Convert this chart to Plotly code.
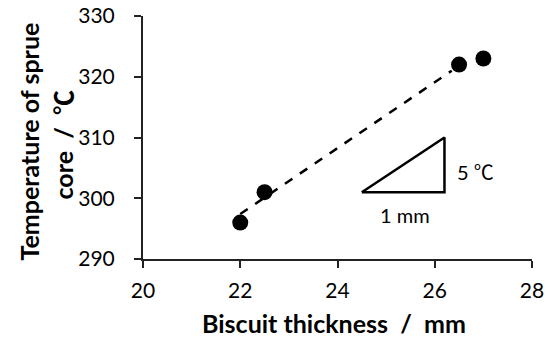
import plotly.graph_objects as go

thickness = [22.0, 22.5, 26.5, 27.0]
temperature = [296, 301, 322, 323]

trend_x = [22.0, 26.35]
trend_y = [297.4, 321.0]

tri_x = [24.5, 26.2, 26.2, 24.5]
tri_y = [301, 301, 310, 301]

x_ticks = [20, 22, 24, 26, 28]
y_ticks = [290, 300, 310, 320, 330]

FONT = "Lato, 'Noto Sans CJK SC', sans-serif"
TICK = 21
TITLE = 25

fig = go.Figure()
fig.add_trace(go.Scatter(x=trend_x, y=trend_y, mode="lines",
                         line=dict(color="black", width=2.5, dash="dash"),
                         showlegend=False, hoverinfo="skip"))
fig.add_trace(go.Scatter(x=tri_x, y=tri_y, mode="lines",
                         line=dict(color="black", width=2.5),
                         showlegend=False, hoverinfo="skip"))
fig.add_trace(go.Scatter(x=thickness, y=temperature, mode="markers",
                         marker=dict(color="black", size=16),
                         showlegend=False))

fig.add_annotation(x=26.41, y=304.3, xref="x", yref="y", text="5 ℃",
                   showarrow=False, xanchor="left", yanchor="middle",
                   font=dict(family=FONT, size=20, color="black"))
fig.add_annotation(x=25.38, y=297.3, xref="x", yref="y", text="1 mm",
                   showarrow=False, xanchor="center", yanchor="middle",
                   font=dict(family=FONT, size=20, color="black"))

# y-axis title, two lines
fig.add_annotation(x=0, y=0.5, xref="paper", yref="paper",
                   text="<b>Temperature of sprue</b>",
                   textangle=-90, showarrow=False,
                   xanchor="center", yanchor="middle", xshift=-115, yshift=-4,
                   font=dict(family=FONT, size=TITLE, color="black"))
fig.add_annotation(x=0, y=0.5, xref="paper", yref="paper",
                   text="<b>core&nbsp; /&nbsp; ℃</b>",
                   textangle=-90, showarrow=False,
                   xanchor="center", yanchor="middle", xshift=-81, yshift=-8,
                   font=dict(family=FONT, size=TITLE, color="black"))
# x-axis title
fig.add_annotation(x=0.5, y=0, xref="paper", yref="paper",
                   text="<b>Biscuit thickness&nbsp; /&nbsp; mm</b>",
                   showarrow=False, xanchor="center", yanchor="middle",
                   xshift=-4, yshift=-64,
                   font=dict(family=FONT, size=TITLE, color="black"))

fig.update_layout(
    width=550, height=338,
    margin=dict(l=143, r=18, t=16, b=79),
    plot_bgcolor="white", paper_bgcolor="white",
    font=dict(family=FONT, size=TICK, color="black"),
    xaxis=dict(range=[20, 28], tickvals=x_ticks, ticks="outside", ticklen=7,
               tickwidth=2, tickcolor="#222", ticklabelstandoff=5,
               showline=True, linecolor="#222", linewidth=2,
               showgrid=False, zeroline=False, automargin=False),
    yaxis=dict(range=[290, 330], tickvals=y_ticks, ticks="outside", ticklen=7,
               tickwidth=2, tickcolor="#222", ticklabelstandoff=15,
               showline=True, linecolor="#222", linewidth=2,
               showgrid=False, zeroline=False, automargin=False),
)

fig.write_html("out.html", config={"displayModeBar": False},
               post_script="document.body.style.margin='0';")
